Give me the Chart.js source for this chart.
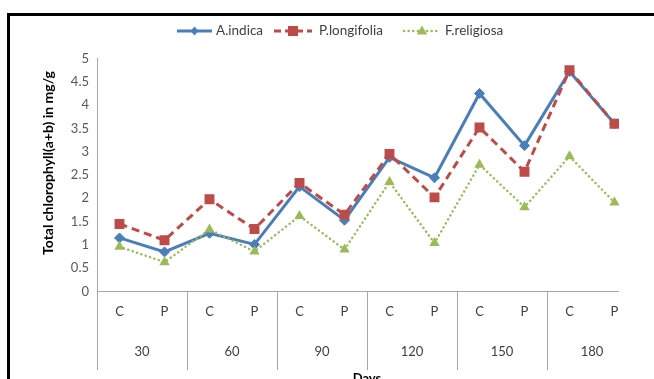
<!DOCTYPE html>
<html><head><meta charset="utf-8">
<script src="https://cdn.jsdelivr.net/npm/chart.js@4"></script>
<style>
html,body{margin:0;padding:0;background:#fff;}
#wrap{position:relative;width:654px;height:379px;overflow:hidden;}
#c{position:absolute;left:0;top:0;}
#mask{position:absolute;left:619px;top:17px;width:40px;height:370px;background:#fff;}
#frame{position:absolute;left:7px;top:13px;width:700px;height:400px;border-left:3px solid #000;border-top:3px solid #000;}
</style></head>
<body><div id="wrap"><canvas id="c" width="654" height="379"></canvas><div id="mask"></div><div id="frame"></div></div>
<script>
const categories = ['C','P','C','P','C','P','C','P','C','P','C','P'];
const dayGroups = ['30','60','90','120','150','180'];
const aIndica = [1.15,0.85,1.25,1.01,2.25,1.53,2.88,2.44,4.25,3.13,4.72,3.60];
const pLongifolia = [1.45,1.10,1.98,1.34,2.33,1.65,2.95,2.02,3.52,2.57,4.75,3.60];
const fReligiosa = [0.96,0.63,1.33,0.86,1.62,0.90,2.35,1.04,2.72,1.81,2.90,1.91];
const yTicks = [0,0.5,1,1.5,2,2.5,3,3.5,4,4.5,5];
const xTitle = 'Days';
const yTitle = 'Total chlorophyll(a+b) in mg/g';

const FONT = 'Lato, "Open Sans", sans-serif';
const BLUE = '#4A7EBB', RED = '#BE4B48', GREEN = '#9BBB59';

function marker(ctx, style, x, y, color) {
  ctx.save();
  ctx.fillStyle = color;
  ctx.beginPath();
  if (style === 'rectRot') {
    ctx.moveTo(x, y - 4.5); ctx.lineTo(x + 4, y); ctx.lineTo(x, y + 4.5); ctx.lineTo(x - 4, y);
  } else if (style === 'rect') {
    ctx.rect(x - 5, y - 5, 10, 10);
  } else {
    ctx.moveTo(x, y - 5.5); ctx.lineTo(x + 5.2, y + 3.5); ctx.lineTo(x - 5.2, y + 3.5);
  }
  ctx.closePath();
  ctx.fill();
  ctx.restore();
}

const deco = {
  id: 'deco',
  afterDraw(chart) {
    const ctx = chart.ctx;
    const xs = chart.scales.x, ys = chart.scales.y;
    // legend
    const items = [
      {label: 'A.indica', color: BLUE, dash: [], cap: 'butt', w: 3, style: 'rectRot', x0: 177, x1: 212, tx: 216},
      {label: 'P.longifolia', color: RED, dash: [7, 4], cap: 'butt', w: 3, style: 'rect', x0: 274, x1: 312, tx: 319},
      {label: 'F.religiosa', color: GREEN, dash: [0.1, 4.5], cap: 'round', w: 2.5, style: 'triangle', x0: 404, x1: 440, tx: 445}
    ];
    const ly = 31;
    items.forEach(it => {
      ctx.save();
      ctx.strokeStyle = it.color; ctx.lineWidth = it.w; ctx.setLineDash(it.dash); ctx.lineCap = it.cap;
      ctx.beginPath(); ctx.moveTo(it.x0, ly); ctx.lineTo(it.x1, ly); ctx.stroke();
      ctx.restore();
      marker(ctx, it.style, (it.x0 + it.x1) / 2, ly, it.color);
      ctx.save();
      ctx.fillStyle = '#404040'; ctx.font = '13.5px ' + FONT; ctx.textBaseline = 'middle'; ctx.textAlign = 'left';
      ctx.fillText(it.label, it.tx, ly);
      ctx.restore();
    });
    // x group separators & labels
    ctx.save();
    ctx.strokeStyle = '#a6a6a6'; ctx.lineWidth = 1;
    const n = dayGroups.length;
    for (let k = 0; k <= n; k++) {
      let px;
      if (k === 0) px = xs.left;
      else if (k === n) px = xs.right;
      else px = (xs.getPixelForValue(2 * k - 1) + xs.getPixelForValue(2 * k)) / 2;
      px = Math.round(px) + 0.5;
      ctx.beginPath(); ctx.moveTo(px, ys.bottom); ctx.lineTo(px, 370); ctx.stroke();
    }
    ctx.fillStyle = '#404040'; ctx.font = '13px ' + FONT; ctx.textAlign = 'center'; ctx.textBaseline = 'middle';
    dayGroups.forEach((g, k) => {
      const cx = (xs.getPixelForValue(2 * k) + xs.getPixelForValue(2 * k + 1)) / 2;
      ctx.fillText(g, cx, 352);
    });
    ctx.fillStyle = '#000'; ctx.font = 'bold 13px ' + FONT; ctx.textBaseline = 'top';
    ctx.fillText(xTitle, (xs.left + xs.right) / 2, 372);
    // y title
    ctx.font = 'bold 14px ' + FONT;
    ctx.translate(48, 163);
    ctx.rotate(-Math.PI / 2);
    ctx.textBaseline = 'middle';
    ctx.fillText(yTitle, 0, 0);
    ctx.restore();
  }
};

new Chart(document.getElementById('c'), {
  type: 'line',
  data: {
    labels: categories,
    datasets: [
      {label: 'F.religiosa', data: fReligiosa, borderColor: GREEN, backgroundColor: GREEN, borderWidth: 2.5,
       borderDash: [0.1, 4.5], borderCapStyle: 'round', pointStyle: 'triangle', pointRadius: 6, pointBorderWidth: 0, tension: 0},
      {label: 'P.longifolia', data: pLongifolia, borderColor: RED, backgroundColor: RED, borderWidth: 3,
       borderDash: [8, 5], pointStyle: 'rect', pointRadius: 7, pointBorderWidth: 0, tension: 0},
      {label: 'A.indica', data: aIndica, borderColor: BLUE, backgroundColor: BLUE, borderWidth: 3,
       pointStyle: 'rectRot', pointRadius: 5, pointBorderWidth: 1, tension: 0}
    ]
  },
  options: {
    responsive: false,
    animation: false,
    layout: {padding: {left: 37, top: 58.5, right: 17, bottom: 47.5}},
    plugins: {legend: {display: false}, tooltip: {enabled: false}},
    scales: {
      x: {
        offset: true,
        grid: {display: false, drawTicks: false},
        border: {color: '#a6a6a6', width: 1},
        ticks: {color: '#404040', font: {family: FONT, size: 13}, padding: 13, autoSkip: false, maxRotation: 0},
        afterFit(s) { s.height = 40; }
      },
      y: {
        min: 0, max: 5,
        grid: {display: false, drawTicks: false},
        border: {color: '#a6a6a6', width: 1},
        afterBuildTicks(s) { s.ticks = yTicks.map(v => ({value: v})); },
        ticks: {color: '#595959', font: {family: FONT, size: 13}, padding: 8, callback: v => String(+v.toFixed(1))},
        afterFit(s) { s.width = 60; }
      }
    }
  },
  plugins: [deco]
});
</script>
</body></html>
